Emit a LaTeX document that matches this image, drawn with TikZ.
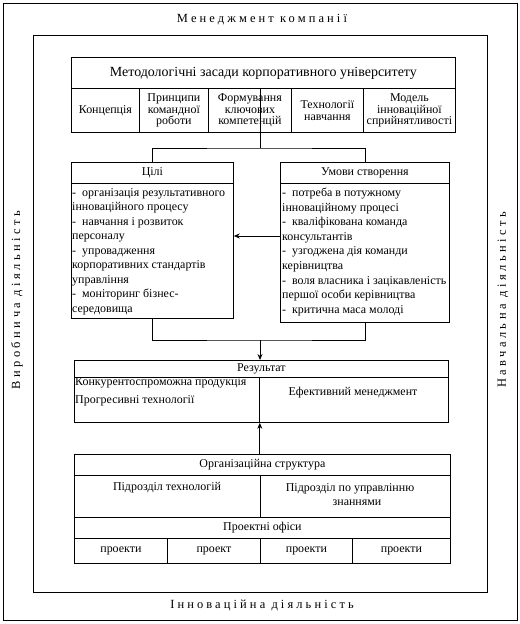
\documentclass[tikz,border=0pt]{standalone}
\usepackage{fontspec}
\setmainfont{Liberation Serif}
\usetikzlibrary{arrows.meta}
\newcommand\spaced{\addfontfeature{LetterSpace=25}}
\newcommand\widespaced{\addfontfeature{LetterSpace=28}}
\tikzset{
  x=1bp, y=-1bp,
  frame/.style={draw, line width=0.8pt},
  cell/.style={draw, line width=0.8pt, anchor=north west, inner sep=0pt, align=center},
  big/.style={font=\fontsize{14}{16}\selectfont},
  mid/.style={font=\fontsize{12}{14}\selectfont},
  small/.style={font=\fontsize{12}{11.6}\selectfont},
  list/.style={anchor=north west, inner sep=0pt, align=left, font=\fontsize{12}{14.6}\selectfont},
  side/.style={font=\fontsize{12.5}{14}\selectfont\spaced},
  vside/.style={font=\fontsize{12.5}{14}\selectfont\widespaced, rotate=90},
  conn/.style={line width=0.8pt},
  arr/.style={line width=0.8pt, -{Stealth[length=6pt,width=5pt]}},
}
\newcommand\mkcell[6][]{\node[cell,#1,minimum width=#4bp,minimum height=#5bp] (#2) at #3 {#6};}
\begin{document}
\begin{tikzpicture}
\useasboundingbox (0,0) rectangle (520,624);
\node[frame, anchor=north west, minimum width=514bp, minimum height=617bp, inner sep=0pt] (outer) at (3,3) {};
\node[frame, anchor=north west, minimum width=454bp, minimum height=557bp, inner sep=0pt] (inner) at (33,35) {};
\node[side] (mgmt) at (262,20) {Менеджмент компанії};
\node[side] (innov) at (262,605) {Інноваційна діяльність};
\node[vside] (prod) at (17,300) {Виробнича діяльність};
\node[vside] (learn) at (503,300) {Навчальна діяльність};
% top box
\mkcell[big]{meth}{(71,57)}{384}{31}{Методологічні засади корпоративного університету}
\mkcell[small]{c1}{(71,88)}{68}{44}{Концепція}
\mkcell[small]{c2}{(139,88)}{69}{44}{Принципи\\командної\\роботи}
\mkcell[small]{c3}{(208,88)}{83}{44}{Формування\\ключових\\компетенцій}
\mkcell[small]{c4}{(291,88)}{72}{44}{Технології\\навчання}
\mkcell[small]{c5}{(363,88)}{92}{44}{Модель\\інноваційної\\сприйнятливості}
\coordinate (j1) at (260,148);
% goals
\mkcell[mid]{gh}{(71,162)}{162}{21}{Цілі}
\mkcell{gb}{(71,183)}{162}{135}{}
\node[list] (gt) at (72,188) {-\ \ організація результативного\\інноваційного процесу\\-\ \ навчання і розвиток\\персоналу\\-\ \ упровадження\\корпоративних стандартів\\управління\\-\ \ моніторинг бізнес-\\середовища};
% conditions
\mkcell[mid]{uh}{(280,162)}{169}{21}{Умови створення}
\mkcell{ub}{(280,183)}{169}{139}{}
\node[list] (ut) at (282,188) {-\ \ потреба в потужному\\інноваційному процесі\\-\ \ кваліфікована команда\\консультантів\\-\ \ узгоджена дія команди\\керівництва\\-\ \ воля власника і зацікавленість\\першої особи керівництва\\-\ \ критична маса молоді};
\draw[conn] (j1 |- meth.south) -- (j1);
\draw[conn] (gh.north) |- (j1) -| (uh.north);
\draw[arr] (ub.west |- 0,236) -- (gb.east |- 0,236);
% result
\coordinate (j2) at (260,340);
\mkcell[mid]{rh}{(74,360)}{374}{17}{Результат}
\mkcell{rl}{(74,377)}{185}{45}{}
\mkcell{rr}{(259,377)}{189}{45}{}
\node[list, font=\fontsize{12}{18.5}\selectfont] (rlt) at (75,377) {Конкурентоспроможна продукція\\Прогресивні технології};
\node[mid] (rrt) at (353,393) {Ефективний менеджмент};
\draw[conn] (gb.south) |- (j2) -| (ub.south);
\draw[arr] (j2) -- (rh.north -| j2);
% org structure
\mkcell[mid]{oh}{(74,454)}{376}{21}{Організаційна структура}
\mkcell{ol}{(74,475)}{186}{42}{}
\mkcell{or}{(260,475)}{190}{42}{}
\node[mid] (olt) at (167,488) {Підрозділ технологій};
\node[mid, align=center] (ort) at (350,495) {Підрозділ по управлінню\\\hspace*{14pt}знаннями};
\mkcell[mid]{po}{(74,517)}{376}{21}{Проектні офіси}
\mkcell[mid]{p1}{(74,538)}{93}{25}{проекти}
\mkcell[mid]{p2}{(167,538)}{93}{25}{проект}
\mkcell[mid]{p3}{(260,538)}{92}{25}{проекти}
\mkcell[mid]{p4}{(352,538)}{98}{25}{проекти}
\draw[arr] (oh.north -| rl.south east) -- (rl.south east);
\end{tikzpicture}
\end{document}
